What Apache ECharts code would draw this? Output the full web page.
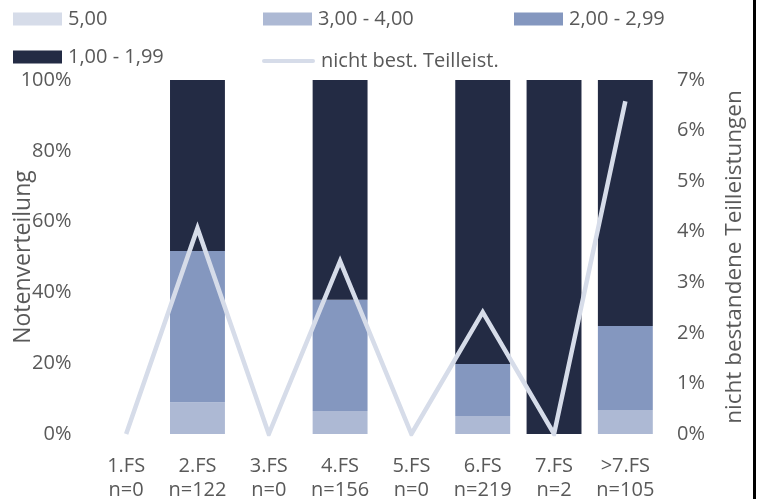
<!DOCTYPE html>
<html><head><meta charset="utf-8">
<script src="https://cdn.jsdelivr.net/npm/echarts@6/dist/echarts.min.js"></script>
<style>html,body{margin:0;padding:0;background:#fff}#c{width:761px;height:499px}</style>
</head><body><div id="c"></div>
<script>
const categories = ['1.FS\nn=0','2.FS\nn=122','3.FS\nn=0','4.FS\nn=156','5.FS\nn=0','6.FS\nn=219','7.FS\nn=2','>7.FS\nn=105'];
const grade5 = [0,0,0,0,0,0,0,0];
const grade3to4 = [0,9.0,0,6.5,0,5.1,0,6.8];
const grade2to299 = [0,42.7,0,31.4,0,14.7,0,23.7];
const grade1to199 = [0,48.3,0,62.1,0,80.2,100,69.5];
const failedShare = [0,4.07,0,3.42,0,2.41,0,6.58];
const leftTicks = [0,20,40,60,80,100];
const rightTicks = [0,1,2,3,4,5,6,7];

const font = 'Open Sans';
const txt = '#595959';
const chart = echarts.init(document.getElementById('c'));
const legendText = {color: txt, fontSize: 20, fontFamily: font, padding: [0,0,0,1]};
function leg(names, left, top){
  return {data: names, left: left, top: top, itemWidth: 49, itemHeight: 13, itemGap: 0,
    textStyle: legendText, icon: 'rect', selectedMode: false, padding: 0};
}
chart.setOption({
  animation: false,
  legend: [
    leg(['5,00'], 13, 9),
    leg(['3,00 - 4,00'], 263, 9),
    leg(['2,00 - 2,99'], 514, 9),
    leg(['1,00 - 1,99'], 13, 47),
    {data: [{name: 'nicht best. Teilleist.', icon: 'path://M2,0 L51,0 A2,2 0 0 1 51,4 L2,4 A2,2 0 0 1 2,0 Z'}], left: 262, top: 51, itemWidth: 53, itemHeight: 4, textStyle: legendText, selectedMode: false, padding: 0}
  ],
  grid: {left: 90.5, right: 100, top: 80, bottom: 65, outerBoundsMode: 'none', containLabel: false},
  xAxis: {
    type: 'category', data: categories,
    axisLine: {show: false}, axisTick: {show: false},
    axisLabel: {interval: 0, color: txt, fontSize: 20, fontFamily: font, lineHeight: 24, margin: 20}
  },
  yAxis: [
    {type: 'value', min: 0, max: 100, interval: 20, name: 'Notenverteilung', nameLocation: 'middle', nameGap: 56, nameMoveOverlap: false,
     nameTextStyle: {color: txt, fontSize: 23, fontFamily: font},
     axisLabel: {color: txt, fontSize: 20, fontFamily: font, formatter: v => leftTicks.includes(v) ? v + '%' : '', margin: 19},
     splitLine: {show: false}, axisLine: {show: false}},
    {type: 'value', min: 0, max: 7, interval: 1, name: 'nicht bestandene Teilleistungen', nameLocation: 'middle', nameGap: 62, nameRotate: 90, nameMoveOverlap: false,
     nameTextStyle: {color: txt, fontSize: 22.5, fontFamily: font},
     axisLabel: {color: txt, fontSize: 20, fontFamily: font, formatter: v => rightTicks.includes(v) ? v + '%' : '', margin: 16},
     splitLine: {show: false}, axisLine: {show: false}}
  ],
  series: [
    {name: '5,00', type: 'bar', stack: 'g', data: grade5, barWidth: '77%', itemStyle: {color: '#d6dce9'}},
    {name: '3,00 - 4,00', type: 'bar', stack: 'g', data: grade3to4, itemStyle: {color: '#adb9d4'}},
    {name: '2,00 - 2,99', type: 'bar', stack: 'g', data: grade2to299, itemStyle: {color: '#8497bf'}},
    {name: '1,00 - 1,99', type: 'bar', stack: 'g', data: grade1to199, itemStyle: {color: '#232b44'}},
    {name: 'nicht best. Teilleist.', type: 'line', yAxisIndex: 1, data: failedShare, symbol: 'none',
     lineStyle: {color: '#d6dce9', width: 4.5, join: 'miter'}, itemStyle: {color: '#d6dce9'}}
  ],
  graphic: [{type: 'rect', shape: {x: 753, y: 0, width: 3, height: 499}, style: {fill: '#000'}}]
});
</script></body></html>
